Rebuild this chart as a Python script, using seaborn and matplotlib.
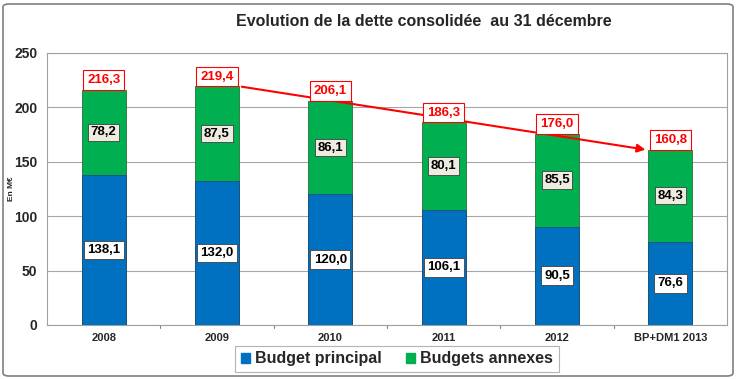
import matplotlib
matplotlib.use("Agg")
import matplotlib.pyplot as plt
import seaborn as sns
import pandas as pd
from matplotlib.patches import Patch, FancyBboxPatch

categories = ["2008", "2009", "2010", "2011", "2012", "BP+DM1 2013"]
budget_principal = [138.1, 132.0, 120.0, 106.1, 90.5, 76.6]
budgets_annexes = [78.2, 87.5, 86.1, 80.1, 85.5, 84.3]
totals = [216.3, 219.4, 206.1, 186.3, 176.0, 160.8]
yticks = [0, 50, 100, 150, 200, 250]

BLUE = "#0070C0"
GREEN = "#00B050"
RED = "#FF0000"

sns.set_style("white")
plt.rcParams["font.family"] = ["Liberation Sans", "DejaVu Sans"]

df = pd.DataFrame({"cat": categories, "bp": budget_principal,
                   "ba": budgets_annexes, "tot": totals})

fig = plt.figure(figsize=(7.37, 3.79), dpi=100)
ax = fig.add_axes([47/737, 1-325/379, (727-47)/737, (325-53)/379])

W = 0.39
sns.barplot(data=df, x="cat", y="tot", color=GREEN, width=W, saturation=1,
            edgecolor="#2a6e3a", linewidth=0.6, ax=ax, zorder=2)
sns.barplot(data=df, x="cat", y="bp", color=BLUE, width=W, saturation=1,
            edgecolor="#1f4e79", linewidth=0.6, ax=ax, zorder=3)

ax.set_ylim(0, 250)
ax.set_xlim(-0.5, len(categories) - 0.5)
ax.set_yticks(yticks)
ax.set_yticklabels([str(t) for t in yticks], fontsize=10, fontweight="bold")
ax.set_xticklabels(categories, fontsize=8, fontweight="bold")
ax.set_xlabel("")
ax.set_ylabel("En M€", fontsize=6, fontweight="bold")
ax.yaxis.set_label_coords(-0.047, 0.5)
ax.yaxis.grid(True, color="#a6a6a6", linewidth=0.8, zorder=0)
ax.set_axisbelow(True)
for s in ax.spines.values():
    s.set_color("#a0a0a0")
    s.set_linewidth(0.8)
ax.tick_params(axis="y", length=3, color="#808080", pad=4)
ax.tick_params(axis="x", length=0, pad=6)
for xb in [0.5, 1.5, 2.5, 3.5, 4.5]:
    ax.plot([xb, xb], [0, -2.5], color="#808080", lw=0.8, clip_on=False)

for i in range(len(categories)):
    bp = budget_principal[i]
    ba = budgets_annexes[i]
    ax.text(i, bp / 2, f"{bp:.1f}".replace(".", ","), ha="center", va="center",
            fontsize=9.5, fontweight="bold", color="black", zorder=5,
            bbox=dict(boxstyle="square,pad=0.25", fc="white", ec="#404040", lw=0.6))
    ax.text(i, bp + ba / 2, f"{ba:.1f}".replace(".", ","), ha="center", va="center",
            fontsize=9.5, fontweight="bold", color="black", zorder=5,
            bbox=dict(boxstyle="square,pad=0.2", fc="#EEECE1", ec="#404040", lw=0.6))
    ax.text(i, totals[i] + 9, f"{totals[i]:.1f}".replace(".", ","), ha="center", va="center",
            fontsize=9.5, fontweight="bold", color=RED, zorder=5,
            bbox=dict(boxstyle="square,pad=0.3", fc="white", ec=RED, lw=0.8))

ax.annotate("", xy=(5 - W / 2, totals[5]), xytext=(1 + W / 2, totals[1]),
            arrowprops=dict(arrowstyle="-|>", color=RED, lw=1.5, mutation_scale=12),
            zorder=4)

fig.text(424/737, 1-22/379, "Evolution de la dette consolidée  au 31 décembre",
         ha="center", va="center", fontsize=11.5, fontweight="bold")

handles = [Patch(facecolor=BLUE, edgecolor=BLUE, label="Budget principal"),
           Patch(facecolor=GREEN, edgecolor=GREEN, label="Budgets annexes")]
leg = fig.legend(handles=handles, loc="center", bbox_to_anchor=(397/737, 1-359/379),
                 ncol=2, frameon=True, fancybox=False, fontsize=11.5,
                 handlelength=0.6, handleheight=0.6, handletextpad=0.3,
                 columnspacing=1.5, borderpad=0.35, borderaxespad=0)
leg.get_frame().set_edgecolor("#a0a0a0")
leg.get_frame().set_linewidth(0.8)
for t in leg.get_texts():
    t.set_fontweight("bold")

border = FancyBboxPatch((3/737, 3/379), 730/737, 372/379, boxstyle="round,pad=0,rounding_size=0.008",
                        transform=fig.transFigure, fill=False, ec="#808080", lw=1.2)
fig.patches.append(border)

fig.savefig("out.png", dpi=100)
